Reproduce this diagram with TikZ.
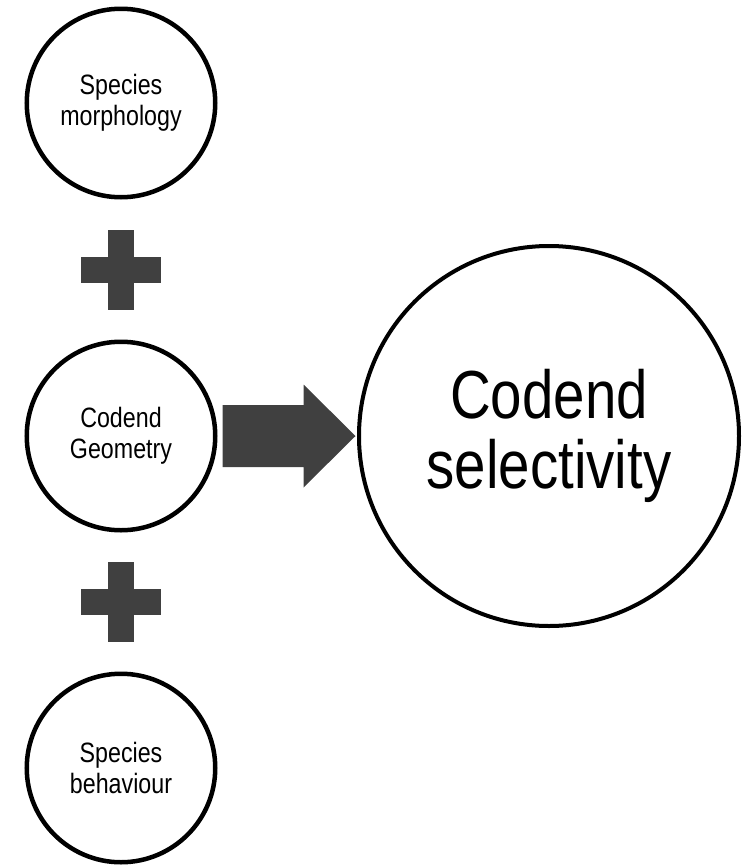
\documentclass[tikz,border=0pt]{standalone}
\usepackage{fontspec}
\setmainfont{Liberation Sans}[FakeStretch=0.83]
\usetikzlibrary{calc}
\definecolor{darkgrey}{HTML}{404040}
\tikzset{
    factor-circle/.style = {draw=black, circle, line width=4.5pt, minimum size=188.5pt, inner sep=0pt, align=center, font=\fontsize{28}{31}\selectfont},
    result-circle/.style = {draw=black, circle, line width=4pt, minimum size=380pt, inner sep=0pt, align=center, font=\fontsize{68}{70}\selectfont},
    block-shape/.style = {fill=darkgrey},
}

\begin{document}
\begin{tikzpicture}[x=1pt,y=-1pt]
\useasboundingbox (0,0) rectangle (744,865);
\node [factor-circle] (morph) at (121,103) {Species\\morphology};
\node [factor-circle] (geom) at (121,436) {Codend\\Geometry};
\node [factor-circle] (behav) at (121,768) {Species\\behaviour};
\node [result-circle] (select) at (549,436) {Codend\\selectivity};
% plus signs between the factors
\coordinate (plus-a) at ($(morph)!0.5!(geom)$);
\coordinate (plus-b) at ($(geom)!0.5!(behav)$);
\foreach \p in {plus-a,plus-b} {
    \fill [block-shape] ($(\p)+(-13,-40)$) rectangle ($(\p)+(13,40)$);
    \fill [block-shape] ($(\p)+(-40,-13)$) rectangle ($(\p)+(40,13)$);
}
% block arrow into the result
\fill [block-shape] ($(geom.east)+(5,-31)$) -- ++(81,0) -- ++(0,-20.5) -- ($(select.west)+(-1.5,0)$)
    -- ($(geom.east)+(86,51.5)$) -- ++(0,-20.5) -- ++(-81,0) -- cycle;
\end{tikzpicture}
\end{document}
